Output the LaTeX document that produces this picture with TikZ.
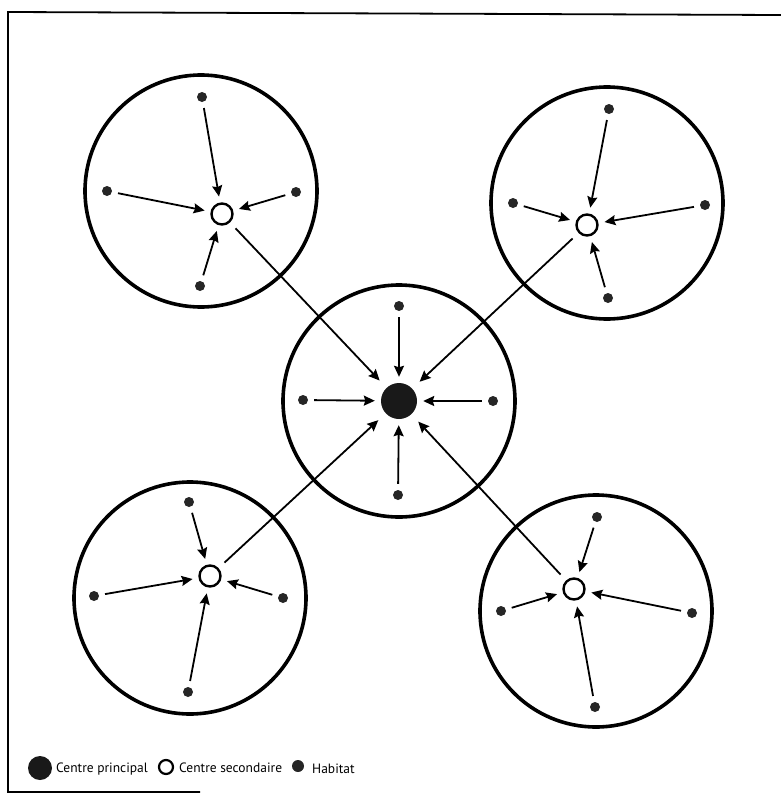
\documentclass[tikz,border=0pt]{standalone}
\usepackage{fontspec}
\setmainfont{PT Sans}
\usetikzlibrary{arrows.meta}
\begin{document}
\begin{tikzpicture}[x=1pt,y=-1pt,
 zone/.style={draw, line width=3.6pt, circle, minimum size=232pt, inner sep=0pt},
 hab/.style={circle, fill=black!85, inner sep=0pt, minimum size=10pt},
 sec/.style={circle, draw, line width=2.4pt, fill=white, inner sep=0pt, minimum size=21pt},
 mainc/.style={circle, fill=black!90, inner sep=0pt, minimum size=36pt},
 tip/.style={-{Stealth[length=11pt,width=10pt,inset=1.5pt]}},
 flow/.style={line width=1.8pt, tip, shorten <=6pt, shorten >=6pt},
 link/.style={line width=1.8pt, tip, shorten <=8pt, shorten >=10pt},
 lgtext/.style={anchor=base west, inner sep=0pt, font=\fontsize{13.5}{15}\selectfont}]
\useasboundingbox (0,0) rectangle (781,798);
% frame
\draw[line width=1.8pt] (200,792) -- (8,792) -- (8,12) -- (781,15);
% zones
\node[zone] (zTL) at (201,191) {};
\node[zone] (zTR) at (607,203) {};
\node[zone] (zC)  at (399,401) {};
\node[zone] (zBL) at (190,598) {};
\node[zone] (zBR) at (596,611) {};
% centres
\node[mainc] (M) at (399,401) {};
\node[sec] (sTL) at (222,214) {};
\node[sec] (sTR) at (587,225) {};
\node[sec] (sBL) at (210,576) {};
\node[sec] (sBR) at (574,589) {};
% habitats TL
\node[hab] (h1a) at (202,97) {};
\node[hab] (h1b) at (107,191) {};
\node[hab] (h1c) at (296,192) {};
\node[hab] (h1d) at (200,286) {};
% habitats TR
\node[hab] (h2a) at (609,109) {};
\node[hab] (h2b) at (513,203) {};
\node[hab] (h2c) at (705,205) {};
\node[hab] (h2d) at (608,298) {};
% habitats C
\node[hab] (h3a) at (399,306) {};
\node[hab] (h3b) at (303,400) {};
\node[hab] (h3c) at (493,401) {};
\node[hab] (h3d) at (398,495) {};
% habitats BL
\node[hab] (h4a) at (189,502) {};
\node[hab] (h4b) at (94,596) {};
\node[hab] (h4c) at (283,598) {};
\node[hab] (h4d) at (188,692) {};
% habitats BR
\node[hab] (h5a) at (597,517) {};
\node[hab] (h5b) at (501,611) {};
\node[hab] (h5c) at (692,613) {};
\node[hab] (h5d) at (595,707) {};
% flows
\foreach \h in {h1a,h1b,h1c,h1d} \draw[flow] (\h) -- (sTL);
\foreach \h in {h2a,h2b,h2c,h2d} \draw[flow] (\h) -- (sTR);
\foreach \h in {h3a,h3b,h3c,h3d} \draw[flow] (\h) -- (M);
\foreach \h in {h4a,h4b,h4c,h4d} \draw[flow] (\h) -- (sBL);
\foreach \h in {h5a,h5b,h5c,h5d} \draw[flow] (\h) -- (sBR);
\foreach \s in {sTL,sTR,sBL,sBR} \draw[link] (\s) -- (M);
% legend
\node[mainc, minimum size=24pt] (lgM) at (40,768) {};
\node[lgtext] (lgMt) at (56,772) {Centre principal};
\node[sec, minimum size=14pt, line width=2.2pt] (lgS) at (166,767) {};
\node[lgtext] (lgSt) at (179,772) {Centre secondaire};
\node[hab, minimum size=12pt] (lgH) at (298,766) {};
\node[lgtext] (lgHt) at (312,773) {Habitat};
\end{tikzpicture}
\end{document}
